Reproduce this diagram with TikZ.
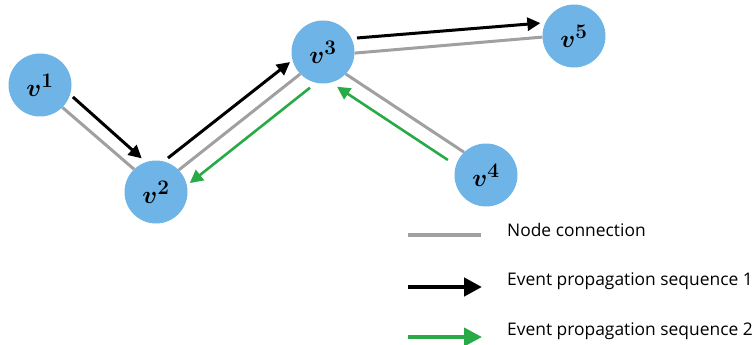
\documentclass[tikz,border=0pt]{standalone}
\usepackage{fontspec}
\setsansfont{Open Sans}
\usetikzlibrary{arrows.meta,calc}

\definecolor{nodeblue}{RGB}{110,180,230}
\definecolor{linkgrey}{RGB}{160,160,160}
\definecolor{seqgreen}{RGB}{40,170,70}

\begin{document}
\begin{tikzpicture}[x=1pt,y=-1pt,
  vertex/.style={circle,fill=nodeblue,minimum size=63pt,inner sep=0pt,
    font=\fontsize{29}{29}\selectfont\boldmath},
  link/.style={draw=linkgrey,line width=3pt},
  seqone/.style={draw=black,line width=3pt,
    -{Triangle[length=13pt,width=13pt]}},
  seqtwo/.style={draw=seqgreen,line width=2.6pt,
    -{Triangle[length=13pt,width=13pt]}},
  keylink/.style={draw=linkgrey,line width=3.8pt},
  keyone/.style={draw=black,line width=4.5pt,
    -{Triangle[length=18pt,width=18pt]}},
  keytwo/.style={draw=seqgreen,line width=4pt,
    -{Triangle[length=18pt,width=18pt]}},
  keytext/.style={anchor=base west,inner sep=0pt,
    font=\sffamily\fontsize{17.4}{17.4}\selectfont}]

\useasboundingbox (0,0) rectangle (756,345);

% vertices
\node[vertex] (v1) at (40,85)   {$v^{1}$};
\node[vertex] (v2) at (156,192) {$v^{2}$};
\node[vertex] (v3) at (323,52)  {$v^{3}$};
\node[vertex] (v4) at (486,175) {$v^{4}$};
\node[vertex] (v5) at (574,36)  {$v^{5}$};

% node connections
\draw[link] (v1.-45) -- (v2.134);
\draw[link] (v2.44) -- (v3.-136);
\draw[link] (v3.-44) -- (v4.134);
\draw[link] (v3.-2) -- (v5.-178);

% event propagation sequence 1
\draw[seqone] ([shift={(-20:35pt)}]v1.center) -- ([shift={(113:36.5pt)}]v2.center);
\draw[seqone] ([shift={(70.6:36pt)}]v2.center) -- ([shift={(-163:34.5pt)}]v3.center);
\draw[seqone] ([shift={(22.4:36.8pt)}]v3.center) -- ([shift={(159:36pt)}]v5.center);

% event propagation sequence 2
\draw[seqtwo] ([shift={(158.5:41pt)}]v4.center) -- ([shift={(-68:37.5pt)}]v3.center);
\draw[seqtwo] ([shift={(-110:38pt)}]v3.center) -- ([shift={(14.8:35pt)}]v2.center);

% legend
\coordinate (k1a) at (408,235);
\coordinate (k1b) at (481,235);
\coordinate (k2a) at (408,287);
\coordinate (k2b) at (482,287);
\coordinate (k3a) at (408,337);
\coordinate (k3b) at (482,337);
\draw[keylink] (k1a) -- (k1b);
\draw[keyone] (k2a) -- (k2b);
\draw[keytwo] (k3a) -- (k3b);
\node[keytext] (t1) at (507,236) {Node connection};
\node[keytext] (t2) at (507,285) {Event propagation sequence 1};
\node[keytext] (t3) at (507,335) {Event propagation sequence 2};
\end{tikzpicture}
\end{document}
